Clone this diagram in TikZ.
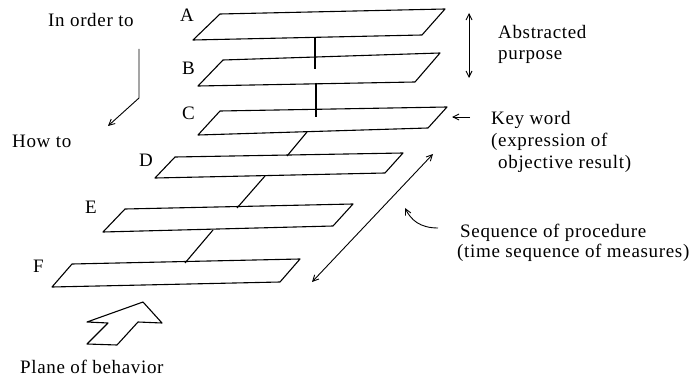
\documentclass[tikz,border=0pt]{standalone}
\usepackage{fontspec}
\setmainfont{Liberation Serif}[LetterSpace=3.5]
\usetikzlibrary{arrows.meta}
\begin{document}
\begin{tikzpicture}[x=1pt,y=-1pt,
  plane/.style={draw, line width=1.1pt, line join=round},
  link/.style={line width=1.1pt},
  txt/.style={font=\fontsize{19}{22}\selectfont, inner sep=0pt, anchor=base west},
  arr/.style={line width=0.9pt, -{Straight Barb[length=6pt,width=6pt]}},
  darr/.style={line width=0.9pt, {Straight Barb[length=6pt,width=6pt]}-{Straight Barb[length=6pt,width=6pt]}}]
\useasboundingbox (0,0) rectangle (693,382);

% planes
\draw[plane] (193,40) -- (422,35) -- (445,9) -- (220,14) -- cycle;
\draw[plane] (198,86) -- (415,82) -- (440,53) -- (223,60) -- cycle;
\draw[plane] (198,135) -- (428,128) -- (447,107) -- (220,111) -- cycle;
\draw[plane] (155,178) -- (385,173) -- (403,153) -- (175,157) -- cycle;
\draw[plane] (103,232) -- (333,226) -- (353,204) -- (125,209) -- cycle;
\draw[plane] (52,287) -- (280,282) -- (300,259) -- (72,264) -- cycle;

% connectors between planes
\coordinate (ab1) at (315,37); \coordinate (ab2) at (315,69);
\coordinate (bc1) at (316,83); \coordinate (bc2) at (316,117);
\coordinate (cd1) at (307,132); \coordinate (cd2) at (287,156);
\coordinate (de1) at (265,176); \coordinate (de2) at (237,208);
\coordinate (ef1) at (213,230); \coordinate (ef2) at (185,263);
\draw[link] (ab1) -- (ab2);
\draw[link] (bc1) -- (bc2);
\draw[link] (cd1) -- (cd2);
\draw[link] (de1) -- (de2);
\draw[link] (ef1) -- (ef2);

% letters
\node[txt] (lA) at (180,22) {A};
\node[txt] (lB) at (182,75) {B};
\node[txt] (lC) at (182,120) {C};
\node[txt] (lD) at (139,167) {D};
\node[txt] (lE) at (85,214) {E};
\node[txt] (lF) at (33,272) {F};

% left annotation
\node[txt] (inorder) at (48,27) {In order to};
\node[txt] (howto) at (12,148) {How to};
\coordinate (h1) at (139,49); \coordinate (h2) at (139,98); \coordinate (h3) at (108,126);
\draw[arr] (h1) -- (h2) -- (h3);

% abstracted purpose
\coordinate (ap1) at (469,13); \coordinate (ap2) at (469,78);
\draw[darr] (ap1) -- (ap2);
\node[txt] (abs1) at (498,39) {Abstracted};
\node[txt] (abs2) at (498,60) {purpose};

% key word
\coordinate (kw1) at (470,117); \coordinate (kw2) at (452,117);
\draw[arr] (kw1) -- (kw2);
\node[txt] (kw) at (491,125) {Key word};
\node[txt] (kwa) at (491,147) {(expression of};
\node[txt] (kwb) at (498,169) {objective result)};

% sequence
\coordinate (sq1) at (312,282); \coordinate (sq2) at (433,154);
\draw[darr] (sq1) -- (sq2);
\coordinate (cv1) at (438,228); \coordinate (cv2) at (405,208);
\draw[arr] (cv1) .. controls (420,228) and (411,220) .. (cv2);
\node[txt] (seq1) at (460,237) {Sequence of procedure};
\node[txt] (seq2) at (457,257) {(time sequence of measures)};

% plane of behavior
\draw[line width=1.1pt, line join=round] (87,344) -- (117,345) -- (138,322) -- (162,323) -- (143,302) -- (87,322) -- (108,323) -- cycle;
\node[txt] (pob) at (20,373) {Plane of behavior};
\end{tikzpicture}
\end{document}
